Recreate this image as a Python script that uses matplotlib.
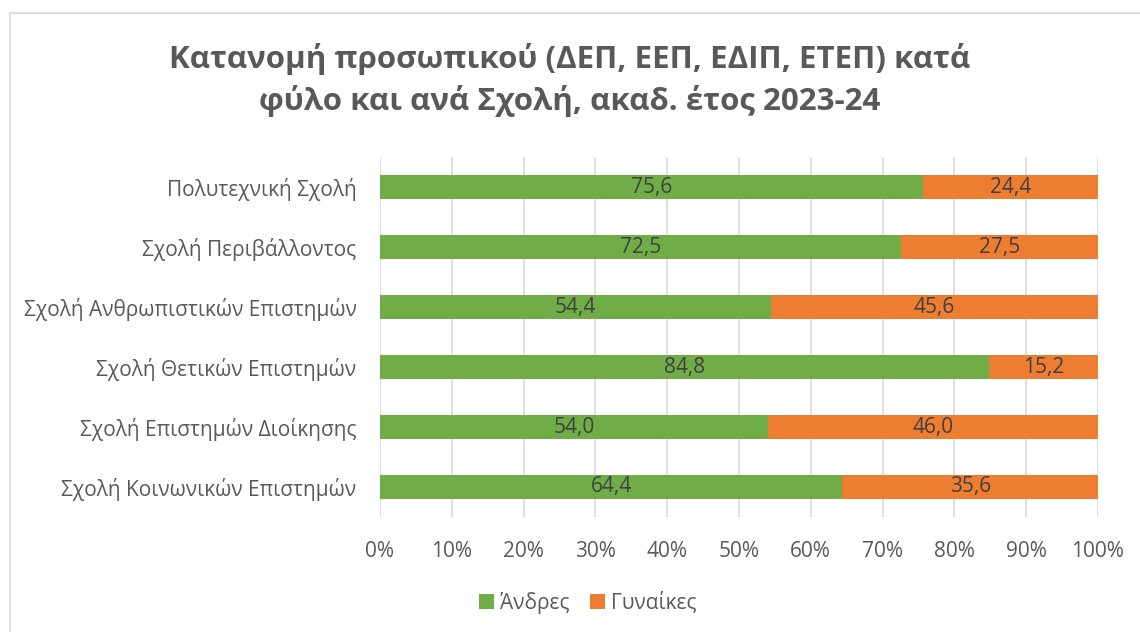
import matplotlib.pyplot as plt
from matplotlib.patches import Rectangle

# Data
schools = ['Πολυτεχνική Σχολή', 'Σχολή Περιβάλλοντος',
           'Σχολή Ανθρωπιστικών Επιστημών', 'Σχολή Θετικών Επιστημών',
           'Σχολή Επιστημών Διοίκησης', 'Σχολή Κοινωνικών Επιστημών']
men = [75.6, 72.5, 54.4, 84.8, 54.0, 64.4]
women = [24.4, 27.5, 45.6, 15.2, 46.0, 35.6]
series_names = ['Άνδρες', 'Γυναίκες']
ticks = [0, 10, 20, 30, 40, 50, 60, 70, 80, 90, 100]

plt.rcParams['font.family'] = ['Open Sans', 'DejaVu Sans']
text_col = '#595959'

fig = plt.figure(figsize=(11.4, 6.32), dpi=100)
fig.patches.append(Rectangle((10 / 1140, -0.1), 1.2, 1 - 13 / 632 + 0.1,
                             transform=fig.transFigure, fill=False,
                             edgecolor='#d9d9d9', linewidth=1.2))

ax = fig.add_axes([380 / 1140, 1 - 517 / 632, 718 / 1140, 360 / 632])

y = list(range(len(schools)))
b1 = ax.barh(y, men, height=0.39, color='#70AD47', label=series_names[0])
b2 = ax.barh(y, women, left=men, height=0.39, color='#ED7D31',
             label=series_names[1])
for bars in (b1, b2):
    ax.bar_label(bars, labels=[f'{v:.1f}'.replace('.', ',') for v in bars.datavalues],
                 label_type='center', color='#404040', fontsize=15)

ax.set_ylim(len(schools) - 0.5, -0.5)
ax.set_xlim(0, 100)
ax.set_xticks(ticks)
ax.set_xticklabels([f'{t}%' for t in ticks])
ax.set_yticks(y)
ax.set_yticklabels(schools)
ax.tick_params(axis='both', length=0, labelsize=15, colors=text_col)
ax.tick_params(axis='x', pad=17)
ax.tick_params(axis='y', pad=17)
ax.grid(axis='x', color='#d9d9d9', linewidth=1.2)
ax.set_axisbelow(True)
for s in ax.spines.values():
    s.set_visible(False)

fig.text(570 / 1140, 1 - 80 / 632,
         'Κατανομή προσωπικού (ΔΕΠ, ΕΕΠ, ΕΔΙΠ, ΕΤΕΠ) κατά\nφύλο και ανά Σχολή, ακαδ. έτος 2023-24',
         ha='center', va='center', fontsize=22.5, fontweight='bold',
         color=text_col, linespacing=1.4)

fig.legend(loc='center', bbox_to_anchor=(588 / 1140, 1 - 603 / 632), ncol=2,
           frameon=False, fontsize=15, labelcolor=text_col,
           handlelength=0.7, handleheight=0.7, handletextpad=0.3,
           columnspacing=1.0)

fig.savefig('out.png', dpi=100)
